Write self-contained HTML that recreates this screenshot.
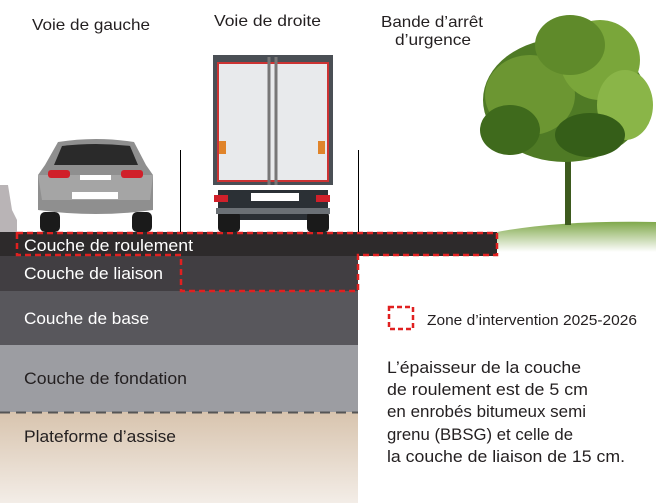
<!DOCTYPE html>
<html><head><meta charset="utf-8"><style>
body{margin:0;background:#fff;}
svg{display:block;font-family:"Liberation Sans",sans-serif;}
</style></head><body>
<svg width="656" height="503" viewBox="0 0 656 503">
<defs>
<linearGradient id="soil" x1="0" y1="0" x2="0" y2="1"><stop offset="0" stop-color="#d8c4ae"/><stop offset="1" stop-color="#f3ede7"/></linearGradient>
<linearGradient id="grass" x1="0" y1="0" x2="0" y2="1"><stop offset="0" stop-color="#7fa84a"/><stop offset="1" stop-color="#ffffff"/></linearGradient>
</defs>
<path d="M497 232 Q560 220 656 222 L656 252 L497 252 Z" fill="url(#grass)"/>
<rect x="0" y="232" width="497" height="24" fill="#2d2a2b"/>
<rect x="0" y="256" width="358" height="35" fill="#413e42"/>
<rect x="0" y="291" width="358" height="54" fill="#58575c"/>
<rect x="0" y="345" width="358" height="67" fill="#9c9da2"/>
<rect x="0" y="412" width="358" height="91" fill="url(#soil)"/>
<line x1="0" y1="412.5" x2="358" y2="412.5" stroke="#555" stroke-width="2" stroke-dasharray="10,6"/>
<path d="M17 233 H497 V255 H358 V291 H181 V255 H17 Z" fill="none" stroke="#e02020" stroke-width="2.5" stroke-dasharray="6,4"/>
<line x1="180.5" y1="150" x2="180.5" y2="232" stroke="#000" stroke-width="1"/>
<line x1="358.5" y1="150" x2="358.5" y2="232" stroke="#000" stroke-width="1"/>
<path d="M0 185 L8 185 L12 210 L17 220 L17 232 L0 232 Z" fill="#b9b4b6"/>
<g>
<rect x="40" y="212" width="20" height="20" rx="5" fill="#1a1a1a"/>
<rect x="132" y="212" width="20" height="20" rx="5" fill="#1a1a1a"/>
<path d="M58 142 Q96 136 134 142 L146 165 L153 175 L153 210 Q96 218 38 210 L38 175 L45 165 Z" fill="#8f8f8f"/>
<path d="M62 146 Q96 142 130 146 L138 165 L54 165 Z" fill="#2a2a2a"/>
<path d="M38 175 L153 175 L150 200 L42 200 Z" fill="#a5a5a5"/>
<rect x="48" y="170" width="22" height="8" rx="3" fill="#d0202a"/>
<rect x="121" y="170" width="22" height="8" rx="3" fill="#d0202a"/>
<rect x="80" y="175" width="31" height="5" fill="#fff"/>
<rect x="72" y="192" width="46" height="7" fill="#fff"/>
</g>
<g>
<rect x="218" y="190" width="110" height="30" fill="#2b3035"/>
<rect x="218" y="212" width="22" height="20" rx="4" fill="#1a1a1a"/>
<rect x="307" y="212" width="22" height="20" rx="4" fill="#1a1a1a"/>
<rect x="213" y="55" width="120" height="130" fill="#4a4f55"/>
<rect x="217" y="62" width="112" height="120" fill="#c33"/>
<rect x="219" y="64" width="108" height="116" fill="#e8eaec"/>
<line x1="269" y1="57" x2="269" y2="185" stroke="#777" stroke-width="3"/>
<line x1="276" y1="57" x2="276" y2="185" stroke="#777" stroke-width="3"/>
<rect x="219" y="141" width="7" height="13" fill="#e0842a"/>
<rect x="318" y="141" width="7" height="13" fill="#e0842a"/>
<rect x="214" y="195" width="14" height="7" fill="#d0202a"/>
<rect x="316" y="195" width="14" height="7" fill="#d0202a"/>
<rect x="251" y="193" width="48" height="8" fill="#fff"/>
<rect x="216" y="208" width="114" height="6" fill="#6b7075"/>
</g>
<g>
<rect x="565" y="140" width="6" height="85" fill="#3d5a1e"/>
<ellipse cx="565" cy="100" rx="82" ry="62" fill="#4f7a25"/>
<ellipse cx="530" cy="95" rx="45" ry="40" fill="#6c9632"/>
<ellipse cx="600" cy="60" rx="40" ry="40" fill="#7aa63a"/>
<ellipse cx="570" cy="45" rx="35" ry="30" fill="#5f8a2a"/>
<ellipse cx="625" cy="105" rx="28" ry="35" fill="#8ab548"/>
<ellipse cx="510" cy="130" rx="30" ry="25" fill="#3f6a1c"/>
<ellipse cx="590" cy="135" rx="35" ry="22" fill="#355e18"/>
</g>
<g font-size="16" fill="#231f20">
<text x="32" y="30" textLength="118" lengthAdjust="spacingAndGlyphs">Voie de gauche</text>
<text x="214" y="26" textLength="107" lengthAdjust="spacingAndGlyphs">Voie de droite</text>
<text x="381" y="27" textLength="102" lengthAdjust="spacingAndGlyphs">Bande d’arrêt</text>
<text x="395" y="45" textLength="76" lengthAdjust="spacingAndGlyphs">d’urgence</text>
</g>
<g font-size="17" fill="#fff">
<text x="24" y="251" textLength="169" lengthAdjust="spacingAndGlyphs">Couche de roulement</text>
<text x="24" y="279" textLength="139" lengthAdjust="spacingAndGlyphs">Couche de liaison</text>
<text x="24" y="324" textLength="125" lengthAdjust="spacingAndGlyphs">Couche de base</text>
</g>
<g font-size="17" fill="#231f20">
<text x="24" y="384" textLength="163" lengthAdjust="spacingAndGlyphs">Couche de fondation</text>
<text x="24" y="442" textLength="152" lengthAdjust="spacingAndGlyphs">Plateforme d’assise</text>
</g>
<rect x="389" y="307" width="24" height="22" fill="none" stroke="#e02020" stroke-width="2.5" stroke-dasharray="5,3"/>
<text x="427" y="325" font-size="15" fill="#231f20" textLength="210" lengthAdjust="spacingAndGlyphs">Zone d’intervention 2025-2026</text>
<g font-size="17" fill="#231f20">
<text x="387" y="373" textLength="194" lengthAdjust="spacingAndGlyphs">L’épaisseur de la couche</text>
<text x="387" y="395" textLength="201" lengthAdjust="spacingAndGlyphs">de roulement est de 5 cm</text>
<text x="387" y="417" textLength="199" lengthAdjust="spacingAndGlyphs">en enrobés bitumeux semi</text>
<text x="387" y="440" textLength="186" lengthAdjust="spacingAndGlyphs">grenu (BBSG) et celle de</text>
<text x="387" y="462" textLength="238" lengthAdjust="spacingAndGlyphs">la couche de liaison de 15 cm.</text>
</g>
</svg>
</body></html>
